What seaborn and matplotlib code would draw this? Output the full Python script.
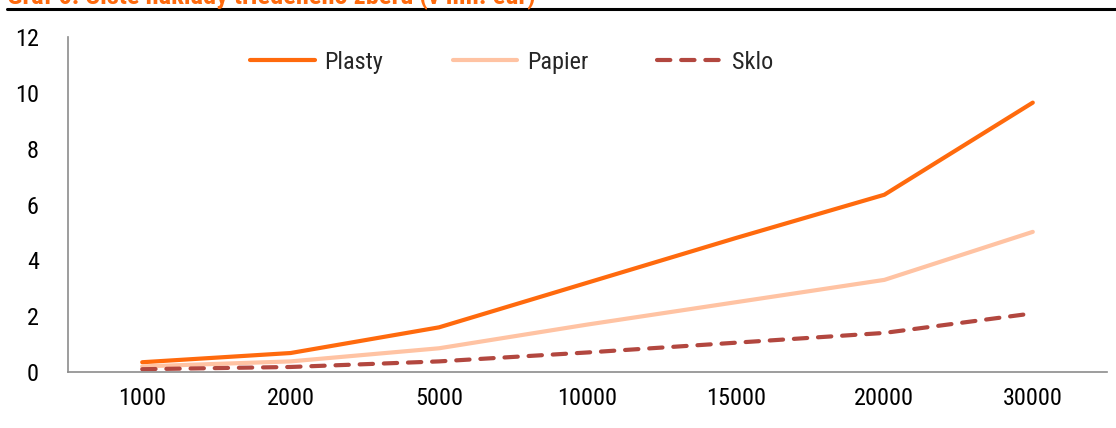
import matplotlib
matplotlib.use("Agg")
import matplotlib.pyplot as plt
import seaborn as sns
import pandas as pd
import numpy as np
from matplotlib.lines import Line2D

# Net costs of separated waste collection by municipality size
categories = ["1000", "2000", "5000", "10000", "15000", "20000", "30000"]
plasty = [0.35, 0.68, 1.60, 3.20, 4.80, 6.35, 9.65]
papier = [0.20, 0.38, 0.85, 1.70, 2.50, 3.30, 5.02]
sklo = [0.10, 0.18, 0.38, 0.70, 1.05, 1.40, 2.10]
series_names = ["Plasty", "Papier", "Sklo"]
title_text = "Graf 6: Čisté náklady triedeného zberu (v mil. eur)"

sns.set_theme(style="white")
plt.rcParams["font.family"] = ["Roboto Condensed", "Liberation Sans", "DejaVu Sans"]
fs = 17.5

df = pd.DataFrame({
    "velkost": categories * 3,
    "hodnota": plasty + papier + sklo,
    "druh": [s for s in series_names for _ in categories],
})
df["pos"] = list(range(len(categories))) * 3

colors = {"Plasty": "#FF6A0D", "Papier": "#FFC3A3", "Sklo": "#B2473F"}

fig = plt.figure(figsize=(11.16, 4.28), dpi=100)
ax = fig.add_axes([68 / 1116, 1 - 372 / 428, (1107 - 68) / 1116, (372 - 37) / 428])

sns.lineplot(data=df, x="pos", y="hodnota", hue="druh", palette=colors,
             linewidth=3.0, ax=ax, legend=False, sort=False)
for line, name in zip(ax.get_lines(), series_names):
    line.set_solid_capstyle("round")
    if name == "Sklo":
        line.set_linestyle((0, (3.2, 2.6)))
        line.set_dash_capstyle("round")

n = len(categories)
ax.set_xlim(-0.5, n - 0.5)
ax.set_ylim(0, 12)
ax.set_yticks(np.arange(0, 13, 2))
ax.set_yticklabels([str(v) for v in range(0, 13, 2)], fontsize=fs)
ax.set_xticks(range(n))
ax.set_xticklabels(categories, fontsize=fs)
ax.set_xticks(np.arange(-0.5, n, 1), minor=True)
ax.tick_params(axis="x", which="major", length=0, pad=11, colors="black")
ax.tick_params(axis="x", which="minor", length=7, width=1, color="#8C8C8C", direction="out")
ax.tick_params(axis="y", length=7, width=1, color="#8C8C8C", direction="out", pad=14)
ax.tick_params(axis="both", labelcolor="black")
ax.set_xlabel("")
ax.set_ylabel("")
for side in ["top", "right"]:
    ax.spines[side].set_visible(False)
for side in ["left", "bottom"]:
    ax.spines[side].set_color("#8C8C8C")
    ax.spines[side].set_linewidth(1.2)

handles = [
    Line2D([], [], color=colors["Plasty"], lw=3.0),
    Line2D([], [], color=colors["Papier"], lw=3.0),
    Line2D([], [], color=colors["Sklo"], lw=3.0, ls=(0, (3.2, 2.6)), dash_capstyle="round"),
]
ax.legend(handles, series_names, loc="upper center", bbox_to_anchor=(0.427, 1.025),
          ncol=3, frameon=False, fontsize=fs, handlelength=2.65,
          handletextpad=0.4, columnspacing=2.85)

fig.text(7 / 1116, 1 - 3 / 428, title_text, color="#FF6A0D", fontsize=19,
         fontweight="bold", ha="left", va="baseline")
fig.add_artist(Line2D([7 / 1116, 1.0], [1 - 9 / 428, 1 - 9 / 428],
                      color="black", lw=2.2, transform=fig.transFigure))

fig.savefig("out.png", dpi=100)
